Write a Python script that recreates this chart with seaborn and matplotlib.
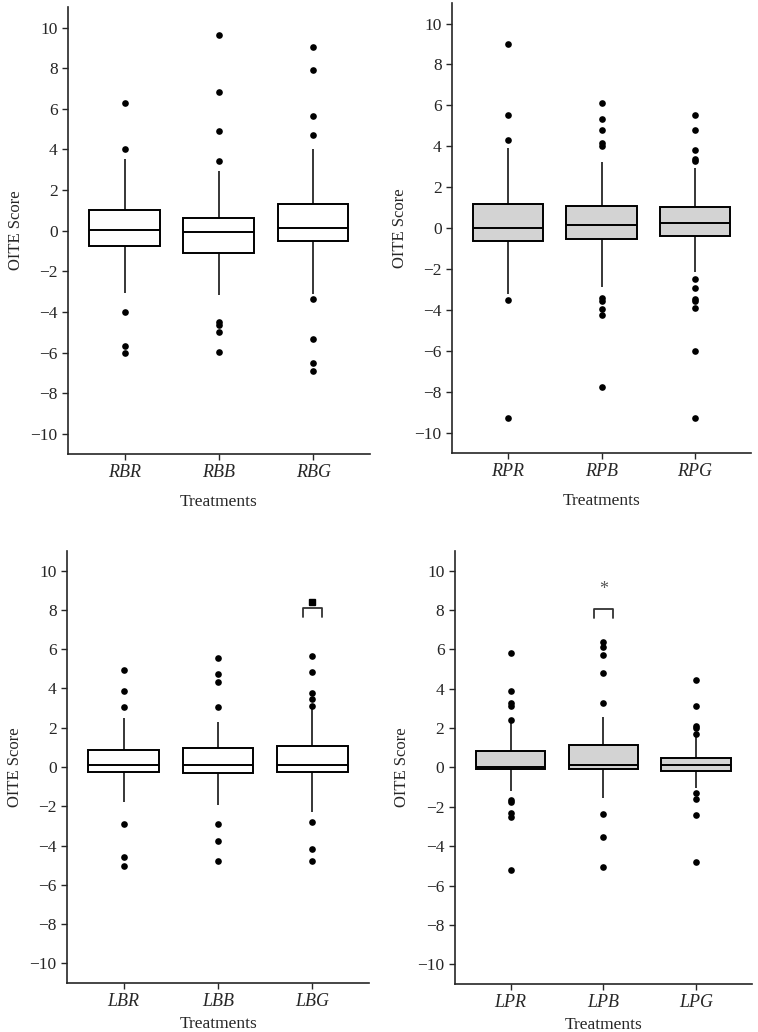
import matplotlib
matplotlib.use("Agg")
import matplotlib.pyplot as plt
import seaborn as sns
import pandas as pd

# ---------------------------------------------------------------
# Values (five-number summaries + outliers)
# ---------------------------------------------------------------
rb_cats = ["RBR", "RBB", "RBG"]
rb_lo = [-3.08, -3.19, -3.10]
rb_q1 = [-0.74, -1.10, -0.51]
rb_med = [0.05, -0.08, 0.12]
rb_q3 = [1.00, 0.63, 1.33]
rb_hi = [3.54, 2.96, 4.01]
rb_out = [[6.30, 4.01, -4.01, -5.67, -6.04],
          [9.64, 6.83, 4.92, 3.44, -4.51, -4.64, -4.97, -5.99],
          [9.03, 7.93, 5.63, 4.70, -3.37, -5.31, -6.53, -6.91]]

rp_cats = ["RPR", "RPB", "RPG"]
rp_lo = [-3.20, -2.88, -2.16]
rp_q1 = [-0.62, -0.55, -0.39]
rp_med = [0.00, 0.13, 0.24]
rp_q3 = [1.19, 1.10, 1.02]
rp_hi = [3.92, 3.24, 2.93]
rp_out = [[9.02, 5.51, 4.33, -3.50, -9.30],
          [6.11, 5.32, 4.80, 4.15, 4.03, -3.41, -3.58, -3.95, -4.24, -7.79],
          [5.53, 4.80, 3.82, 3.40, 3.27, -2.49, -2.91, -3.46, -3.58, -3.89, -6.03, -9.30]]

lb_cats = ["LBR", "LBB", "LBG"]
lb_lo = [-1.79, -1.96, -2.28]
lb_q1 = [-0.26, -0.31, -0.27]
lb_med = [0.085, 0.085, 0.12]
lb_q3 = [0.89, 0.99, 1.07]
lb_hi = [2.47, 2.27, 2.95]
lb_out = [[4.96, 3.85, 3.03, -2.88, -4.58, -5.03],
          [5.54, 4.72, 4.34, 3.03, -2.88, -3.78, -4.80],
          [5.66, 4.86, 3.76, 3.44, 3.13, -2.78, -4.17, -4.77]]

lp_cats = ["LPR", "LPB", "LPG"]
lp_lo = [-1.18, -1.55, -1.02]
lp_q1 = [-0.10, -0.07, -0.17]
lp_med = [0.05, 0.15, 0.14]
lp_q3 = [0.83, 1.12, 0.49]
lp_hi = [2.25, 2.57, 1.58]
lp_out = [[5.84, 3.88, 3.27, 3.13, 2.40, -1.64, -1.75, -2.32, -2.52, -5.20],
          [6.37, 6.10, 5.74, 4.80, 3.29, -2.38, -3.53, -5.03],
          [4.43, 3.13, 2.11, 2.00, 1.72, -1.28, -1.62, -2.40, -4.80]]

WHITE = "#ffffff"
GREY = "#d3d3d3"


def draw_panel(ax, cats, lo, q1, med, q3, hi, outliers, fill, xpad=9):
    # five-number summary per treatment -> box with whiskers at min/max
    core = pd.DataFrame({
        "treatment": [c for c in cats for _ in range(5)],
        "score": [v for i in range(len(cats))
                  for v in (lo[i], q1[i], med[i], q3[i], hi[i])],
    })
    flier = pd.DataFrame({
        "treatment": [c for c, vals in zip(cats, outliers) for _ in vals],
        "score": [v for vals in outliers for v in vals],
    })

    sns.boxplot(data=core, x="treatment", y="score", order=cats, ax=ax,
                color=fill, saturation=1, linecolor="black", linewidth=1.4,
                width=0.75, whis=(0, 100), showfliers=False, showcaps=False,
                medianprops={"linewidth": 1.4},
                whiskerprops={"linewidth": 1.1})
    sns.stripplot(data=flier, x="treatment", y="score", order=cats, ax=ax,
                  jitter=False, color="black", size=4.8, linewidth=0)

    ax.set_xlim(-0.6, 2.6)
    ax.set_ylim(-11, 11)
    ax.set_yticks(range(-10, 11, 2))
    ax.set_xlabel("Treatments", fontsize=12.5, labelpad=xpad)
    ax.set_ylabel("OITE Score", fontsize=12, labelpad=5)
    ax.tick_params(axis="both", length=4.5, width=1, labelsize=12.5, pad=3)
    for lab in ax.get_xticklabels():
        lab.set_fontstyle("italic")
        lab.set_fontsize(13)
    sns.despine(ax=ax)
    for side in ("left", "bottom"):
        ax.spines[side].set_linewidth(1.2)


def main():
    sns.set_style("ticks")
    plt.rcParams["font.family"] = ["Liberation Serif", "DejaVu Serif"]

    fig = plt.figure(figsize=(7.58, 10.32), dpi=100)
    ax_tl = fig.add_axes([0.0897, 0.560, 0.398, 0.433])
    ax_tr = fig.add_axes([0.5963, 0.561, 0.3945, 0.436])
    ax_bl = fig.add_axes([0.0884, 0.0475, 0.3986, 0.4186])
    ax_br = fig.add_axes([0.600, 0.0465, 0.392, 0.4196])

    draw_panel(ax_tl, rb_cats, rb_lo, rb_q1, rb_med, rb_q3, rb_hi, rb_out, WHITE)
    draw_panel(ax_tr, rp_cats, rp_lo, rp_q1, rp_med, rp_q3, rp_hi, rp_out, GREY)
    draw_panel(ax_bl, lb_cats, lb_lo, lb_q1, lb_med, lb_q3, lb_hi, lb_out, WHITE, xpad=4)
    draw_panel(ax_br, lp_cats, lp_lo, lp_q1, lp_med, lp_q3, lp_hi, lp_out, GREY, xpad=4)

    # significance brackets
    ax_bl.plot([1.9, 1.9, 2.1, 2.1], [7.63, 8.12, 8.12, 7.63], color="#333333", lw=1.3)
    ax_bl.plot([2.0], [8.38], marker="s", color="black", ms=4.5)
    ax_br.plot([0.9, 0.9, 1.1, 1.1], [7.58, 8.07, 8.07, 7.58], color="#333333", lw=1.3)
    ax_br.text(1.0, 9.05, "*", ha="center", va="center", fontsize=13, color="#555555")

    fig.savefig("out.png", dpi=100)
    plt.close(fig)


if __name__ == "__main__":
    main()
